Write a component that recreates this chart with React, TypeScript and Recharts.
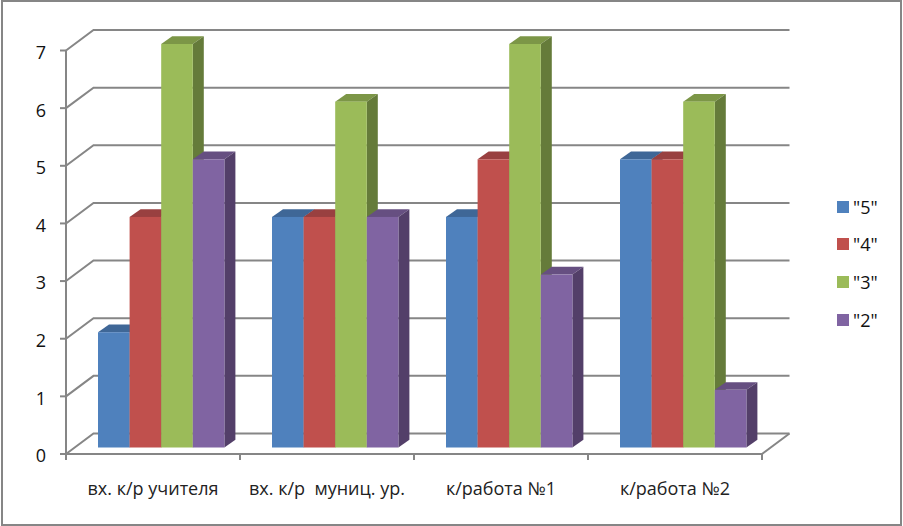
import { Bar, BarChart, CartesianGrid, Legend, XAxis, YAxis } from "recharts";

const categories = ["вх. к/р учителя", "вх. к/р\u00a0 муниц. ур.", "к/работа №1", "к/работа №2"];
const seriesNames = ['"5"', '"4"', '"3"', '"2"'];
const fives = [2, 4, 4, 5];
const fours = [4, 4, 5, 5];
const threes = [7, 6, 7, 6];
const twos = [5, 4, 3, 1];
const yTicks = [0, 1, 2, 3, 4, 5, 6, 7];

const seriesValues = [fives, fours, threes, twos];
const colors = ["#4F81BD", "#C0504D", "#9BBB59", "#8064A2"];
const topColors = ["#3F6797", "#994040", "#7C9647", "#664F81"];
const sideColors = ["#375A83", "#853836", "#657B3A", "#533F69"];

const data = categories.map((name, i) => ({
  name,
  s0: seriesValues[0][i],
  s1: seriesValues[1][i],
  s2: seriesValues[2][i],
  s3: seriesValues[3][i],
}));

const AXIS = "#868686";
// floor depth of the 3d box and of the bars
const WALL_DX = 27.5;
const WALL_DY = -20.5;
const BAR_SHIFT_X = 8;
const BAR_SHIFT_Y = -6.5;
const BAR_DX = 11;
const BAR_DY = -7.7;
const HALF_BAND = 87;
const AXIS_TO_LABEL = 34;

function WallLine(props: any) {
  const { x1, x2, y1, index } = props;
  return (
    <g key={`wall-${index}`} stroke={AXIS} strokeWidth={2} fill="none">
      <path d={`M${x1} ${y1}L${x1 + WALL_DX} ${y1 + WALL_DY}L${x2 + WALL_DX} ${y1 + WALL_DY}`} />
      {y1 > 400 && <path d={`M${x2 + WALL_DX} ${y1 + WALL_DY}L${x2} ${y1}`} />}
    </g>
  );
}

// ticks sit on the category boundaries, labels in the middle
function CategoryTick(props: any) {
  const { x, y, payload, index } = props;
  const axisY = y;
  return (
    <g>
      <line x1={x - HALF_BAND} x2={x - HALF_BAND} y1={axisY} y2={axisY + 6} stroke={AXIS} strokeWidth={2} />
      {index === categories.length - 1 && (
        <line x1={x + HALF_BAND} x2={x + HALF_BAND} y1={axisY} y2={axisY + 6} stroke={AXIS} strokeWidth={2} />
      )}
      <text x={x} y={axisY + AXIS_TO_LABEL} textAnchor="middle" fill="#222" fontSize={18} dominantBaseline="central" style={{ whiteSpace: "pre" }}>
        {payload.value}
      </text>
    </g>
  );
}

function Bar3D(props: any) {
  const { x, y, width, height, seriesIndex } = props;
  const left = x + BAR_SHIFT_X;
  const top = y + BAR_SHIFT_Y;
  const right = left + width;
  const bottom = top + height;
  return (
    <g>
      <polygon
        points={`${left},${top} ${left + BAR_DX},${top + BAR_DY} ${right + BAR_DX},${top + BAR_DY} ${right},${top}`}
        fill={topColors[seriesIndex]}
      />
      <polygon
        points={`${right},${top} ${right + BAR_DX},${top + BAR_DY} ${right + BAR_DX},${bottom + BAR_DY} ${right},${bottom}`}
        fill={sideColors[seriesIndex]}
      />
      <rect x={left} y={top} width={width} height={height} fill={colors[seriesIndex]} />
    </g>
  );
}

function LegendList() {
  return (
    <div>
      {seriesNames.map((name, i) => (
        <div key={name} style={{ display: "flex", alignItems: "center", height: 37.6 }}>
          <span style={{ width: 12, height: 12, background: colors[i], marginRight: 4 }} />
          <span style={{ fontSize: 18, color: "#111" }}>{name}</span>
        </div>
      ))}
    </div>
  );
}

export default function App() {
  return (
    <div
      style={{
        position: "absolute",
        left: 0,
        top: 0,
        width: 903,
        height: 526,
        background: "#fff",
        fontFamily: "'Open Sans', sans-serif",
      }}
    >
      <div
        style={{
          position: "absolute",
          left: 1,
          top: 0,
          width: 897,
          height: 522,
          border: `2px solid ${AXIS}`,
        }}
      />
      <BarChart
        width={903}
        height={526}
        data={data}
        barGap={0}
        barSize={31.6}
        margin={{ top: 50.5, right: 81, left: 0, bottom: 0 }}
      >
        <CartesianGrid horizontal={WallLine} vertical={false} />
        <XAxis
          dataKey="name"
          height={72}
          interval={0}
          stroke={AXIS}
          strokeWidth={2}
          tickLine={false}
          tickSize={0}
          tickMargin={0}
          tick={<CategoryTick />}
        />
        <YAxis
          width={66}
          domain={[0, 7]}
          ticks={yTicks}
          interval={0}
          stroke={AXIS}
          strokeWidth={2}
          tickSize={6}
          tickMargin={14}
          tick={{ fill: "#111", fontSize: 18, dy: 2 }}
        />
        <Legend
          layout="vertical"
          verticalAlign="top"
          align="right"
          content={<LegendList />}
          wrapperStyle={{ left: 837, top: 188, width: 60 }}
        />
        {seriesNames.map((name, i) => (
          <Bar
            key={name}
            dataKey={`s${i}`}
            name={name}
            isAnimationActive={false}
            shape={(p: any) => <Bar3D {...p} seriesIndex={i} />}
          />
        ))}
      </BarChart>
    </div>
  );
}
